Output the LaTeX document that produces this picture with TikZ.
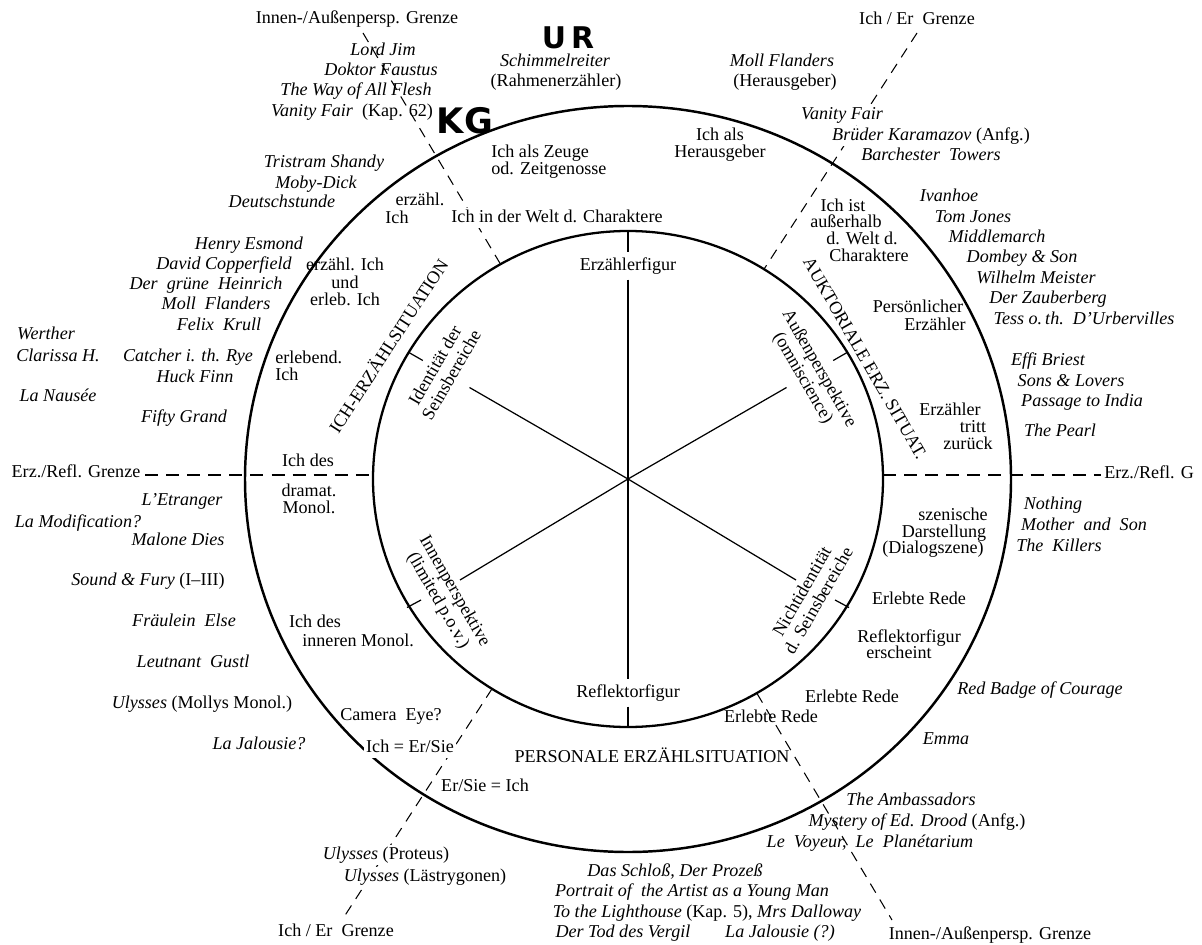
\documentclass[tikz,border=0pt]{standalone}
\usepackage{fontspec}
\setmainfont{Liberation Serif}
\newfontfamily\handfont{DejaVu Sans}
\begin{document}
\begin{tikzpicture}[x=0.02cm,y=-0.02cm,
  t/.style={font=\fontsize{10.3}{10}\selectfont, inner sep=0pt, text height=7.2pt, text depth=2pt},
  ti/.style={t, font=\fontsize{10.3}{10}\selectfont\itshape},
  ml/.style={font=\fontsize{10.3}{9.8}\selectfont, inner sep=0pt, align=center},
  rl/.style={font=\fontsize{10.3}{10.8}\selectfont, inner sep=0pt, align=center},
  wt/.style={fill=white, inner sep=1pt},
  grenze/.style={line width=0.6pt, dash pattern=on 6pt off 4.5pt},
  hgrenze/.style={line width=0.6pt, dash pattern=on 7.4pt off 4.6pt},
  spoke/.style={line width=0.7pt},
  hand/.style={font=\handfont\bfseries\fontsize{20}{20}\selectfont, inner sep=0pt}
]
\fill[white] (0,0) rectangle (1202,945);
\useasboundingbox (0,0) rectangle (1202,945);

% circles
\coordinate (c) at (628,479);
\draw[line width=1.4pt] (c) ellipse [x radius=383, y radius=373];
\draw[line width=1.3pt] (c) ellipse [x radius=255, y radius=248];

% spoke coordinates
\coordinate (s1) at (469.5,387.5);
\coordinate (s2) at (786.5,387.5);
\coordinate (s3) at (460,580);
\coordinate (s4) at (796,580);
\coordinate (k1a) at (422.8,360.5); \coordinate (k1b) at (408.7,352.4);
\coordinate (k2a) at (833.2,360.5); \coordinate (k2b) at (847.3,352.4);
\coordinate (k3a) at (421,600); \coordinate (k3b) at (407,607.5);
\coordinate (k4a) at (835,600); \coordinate (k4b) at (849,607.5);
\coordinate (top) at (628,231);
\coordinate (bot) at (628,727);

\draw[spoke] (c) -- (s1);
\draw[spoke] (c) -- (s2);
\draw[spoke] (c) -- (s3);
\draw[spoke] (c) -- (s4);
\draw[spoke] (k1a) -- (k1b);
\draw[spoke] (k2a) -- (k2b);
\draw[spoke] (k3a) -- (k3b);
\draw[spoke] (k4a) -- (k4b);

\node[t, inner ysep=3pt] (erz) at (628,266) {Erzählerfigur};
\node[t, inner ysep=3pt] (refl) at (628,693) {Reflektorfigur};
\draw[spoke] (top) -- (erz.north);
\draw[spoke] (erz.south) -- (c) -- (refl.north);
\draw[spoke] (refl.south) -- (bot);

% dashed boundaries
\coordinate (ia1) at (363,33);
\coordinate (ia2) at (500.7,264.5);
\coordinate (ia3) at (757,693.5);
\coordinate (ia4) at (892,920);
\coordinate (ie1) at (917,33);
\coordinate (ie2) at (764,269.2);
\coordinate (ie3) at (492,688.8);
\coordinate (ie4) at (342,920);
\coordinate (er1) at (145,475);
\coordinate (er2) at (373,475);
\coordinate (er3) at (883,475);
\coordinate (er4) at (1101,475);
\draw[grenze] (ia1) -- (ia2);
\draw[grenze] (ia3) -- (ia4);
\draw[grenze] (ie1) -- (ie2);
\draw[grenze] (ie3) -- (ie4);
\draw[hgrenze] (er1) -- (er2);
\draw[hgrenze] (er3) -- (er4);

% inner rotated labels
\node[rl, rotate=60] (ident) at (443,370) {Identität der\\Seinsbereiche};
\node[rl, rotate=-60] (aussen) at (810.7,373.5) {Außenperspektive\\(omniscience)};
\node[rl, rotate=-60] (innen) at (446,596) {Innenperspektive\\(limited p.o.v.)};
\node[rl, rotate=60] (nicht) at (810,596) {Nichtidentität\\d. Seinsbereiche};

% situation labels
\node[t, rotate=57] (ichsit) at (390,347) {ICH-ERZÄHLSITUATION};
\node[t, rotate=-60] (auksit) at (864,359) {AUKTORIALE ERZ. SITUAT.};
\node[t] (persit) at (652,758) {PERSONALE ERZÄHLSITUATION};

% boundary labels
\node[t] (giaT) at (357,19) {Innen-/Außenpersp. Grenze};
\node[t] (giaB) at (990,935) {Innen-/Außenpersp. Grenze};
\node[t] (gieT) at (917,20) {Ich / Er\enspace Grenze};
\node[t] (gieB) at (336,932) {Ich / Er\enspace Grenze};
\node[t] (gerL) at (76,473) {Erz./Refl. Grenze};
\node[t, anchor=west] (gerR) at (1104,474) {Erz./Refl. G};

% hand annotations
\node[hand] (kg) at (465,121) {KG};
\node[hand, font=\handfont\bfseries\fontsize{17}{17}\selectfont] (ur) at (568,38) {U\,R};

% region labels (between circles)
\node[ml, anchor=west, align=left] (zeuge) at (491,161.5) {Ich als Zeuge\\od. Zeitgenosse};
\node[ml] (hrsg) at (720,145) {Ich als\\Herausgeber};
\node[t] (erzI1) at (420,201) {erzähl.};
\node[t] (erzI2) at (397,219) {Ich};
\node[t, wt] (welt) at (557,218) {Ich in der Welt d. Charaktere};
\node[ml] (erzerl) at (345,282) {erzähl. Ich\\und\\erleb. Ich};
\node[ml, anchor=west, align=left] (erlebend) at (275,366) {erlebend.\\Ich};
\node[t] (dram1) at (308,462) {Ich des};
\node[ml] (dram2) at (309,499) {dramat.\\Monol.};
\node[t] (inn1) at (315,623) {Ich des};
\node[t, anchor=west] (inn2) at (302,642) {inneren Monol.};
\node[t] (cam) at (391,716) {Camera\enspace Eye?};
\node[t, wt] (icher) at (410,748) {Ich = Er/Sie};
\node[t] (erich) at (485,787) {Er/Sie = Ich};
\node[t] (ausserh1) at (843,207) {Ich ist};
\node[t] (ausserh2) at (846,223) {außerhalb};
\node[t] (ausserh3) at (862,240) {d. Welt d.};
\node[t] (ausserh4) at (869,257) {Charaktere};
\node[t] (pers1) at (918,308) {Persönlicher};
\node[t] (pers2) at (935,326) {Erzähler};
\node[t] (tritt1) at (950,411) {Erzähler};
\node[t] (tritt2) at (973,428) {tritt};
\node[t] (tritt3) at (968,445) {zurück};
\node[t] (szen1) at (953,516) {szenische};
\node[t] (szen2) at (944,533) {Darstellung};
\node[t] (szen3) at (933,549) {(Dialogszene)};
\node[t] (erlR) at (919,600) {Erlebte Rede};
\node[t] (reflE1) at (909,638) {Reflektorfigur};
\node[t] (reflE2) at (899,654) {erscheint};
\node[t] (erlU) at (852,698) {Erlebte Rede};
\node[t] (erlL) at (771,718) {Erlebte Rede};

% top lists
\node[ti] (lj) at (383,51) {Lord Jim};
\node[ti] (dfa) at (381,71) {Doktor Faustus};
\node[ti] (wf) at (356,91) {The Way of All Flesh};
\node[t] (vfk) at (352,112) {\textit{Vanity Fair}\enspace(Kap. 62)};
\node[ti] (sr) at (555,62) {Schimmelreiter};
\node[t] (rz) at (556,82) {(Rahmenerzähler)};
\node[ti] (mfh) at (782,62) {Moll Flanders};
\node[t] (hg) at (785,82) {(Herausgeber)};
\node[ti, wt] (vf2) at (842,115) {Vanity Fair};
\node[t, wt] (bk) at (931,136) {\textit{Brüder Karamazov} (Anfg.)};
\node[ti] (bt) at (931,156) {Barchester\enspace Towers};

% left lists
\node[ti] (ts) at (324,163) {Tristram Shandy};
\node[ti] (md) at (316,184) {Moby-Dick};
\node[ti] (ds) at (282,203) {Deutschstunde};
\node[ti] (he) at (249,245) {Henry Esmond};
\node[ti] (dc) at (224,265) {David Copperfield};
\node[ti] (gh) at (206,285) {Der\enspace grüne\enspace Heinrich};
\node[ti] (mfl) at (216,305) {Moll\enspace Flanders};
\node[ti] (fk) at (219,326) {Felix\enspace Krull};
\node[ti] (we) at (46,335) {Werther};
\node[ti] (cl) at (58,357) {Clarissa H.};
\node[ti] (cr) at (188,357) {Catcher i. th. Rye};
\node[ti] (hf) at (195,378) {Huck Finn};
\node[ti] (ln) at (58,397) {La Nausée};
\node[ti] (fg) at (184,418) {Fifty Grand};
\node[ti] (le) at (182,501) {L’Etranger};
\node[ti] (lm) at (78,523) {La Modification?};
\node[ti] (mdi) at (178,541) {Malone Dies};
\node[t] (sf) at (148,581) {\textit{Sound \& Fury} (I--III)};
\node[ti] (fe) at (184,622) {Fräulein\enspace Else};
\node[ti] (lg) at (193,663) {Leutnant\enspace Gustl};
\node[t] (um) at (202,704) {\textit{Ulysses} (Mollys Monol.)};
\node[ti] (lj2) at (259,745) {La Jalousie?};

% bottom lists
\node[t, wt] (up) at (386,855) {\textit{Ulysses} (Proteus)};
\node[t, wt] (ul) at (425,877) {\textit{Ulysses} (Lästrygonen)};
\node[ti] (sp) at (675,872) {Das Schloß, Der Prozeß};
\node[ti] (pa) at (692,892) {Portrait of\enspace the Artist as a Young Man};
\node[t] (tl) at (707,913) {\textit{To the Lighthouse} (Kap. 5), \textit{Mrs Dalloway}};
\node[ti] (tv) at (623,933) {Der Tod des Vergil};
\node[ti] (lj3) at (780,933) {La Jalousie (?)};

% right lists
\node[ti] (iv) at (949,197) {Ivanhoe};
\node[ti] (tj) at (973,218) {Tom Jones};
\node[ti] (mm) at (997,238) {Middlemarch};
\node[ti] (dso) at (1022,258) {Dombey \& Son};
\node[ti] (wm) at (1036,279) {Wilhelm Meister};
\node[ti] (zb) at (1048,299) {Der Zauberberg};
\node[ti] (tess) at (1084,320) {Tess o.\,th.\enspace D’Urbervilles};
\node[ti] (eb) at (1048,361) {Effi Briest};
\node[ti] (sl) at (1071,382) {Sons \& Lovers};
\node[ti] (pi) at (1082,402) {Passage to India};
\node[ti] (tp) at (1060,432) {The Pearl};
\node[ti] (no) at (1053,505) {Nothing};
\node[ti] (ms) at (1084,526) {Mother\enspace and\enspace Son};
\node[ti] (tk) at (1059,547) {The\enspace Killers};
\node[ti] (rb) at (1040,690) {Red Badge of Courage};
\node[ti] (em) at (946,740) {Emma};
\node[ti] (amb) at (911,801) {The Ambassadors};
\node[t] (edd) at (917,822) {\textit{Mystery of Ed. Drood} (Anfg.)};
\node[ti] (lv) at (870,843) {Le\enspace Voyeur,\enspace Le\enspace Planétarium};
\end{tikzpicture}
\end{document}
